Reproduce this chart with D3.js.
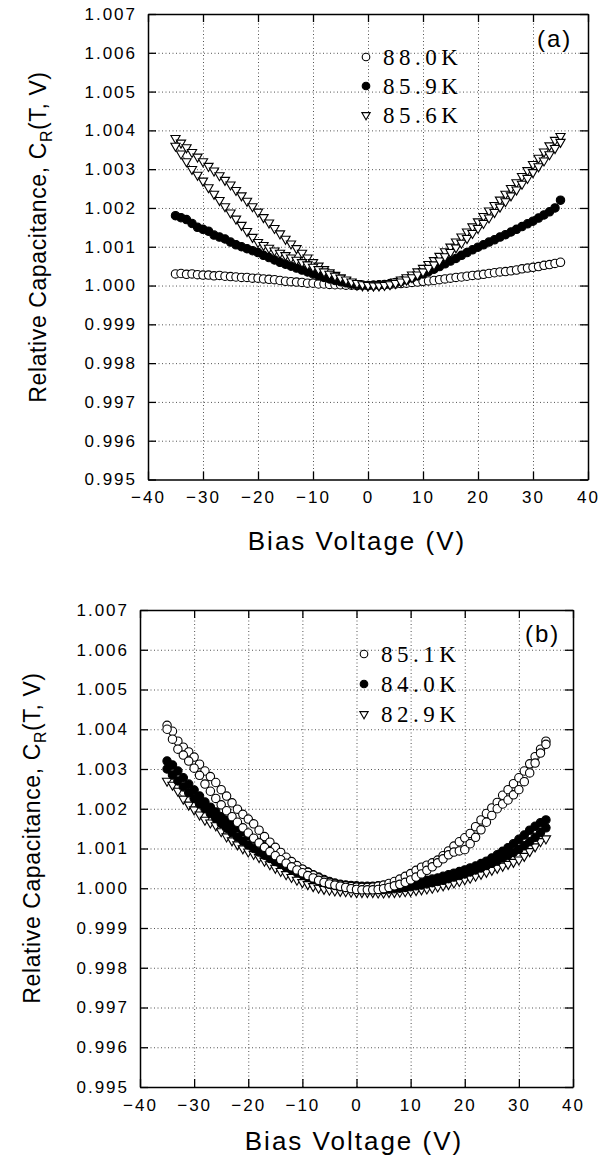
<!DOCTYPE html>
<html>
<head>
<meta charset="utf-8">
<script src="https://cdn.jsdelivr.net/npm/d3@7"></script>
<style>
  body { margin: 0; background: #fff; }
  svg text { font-family: "Liberation Sans", Arial, sans-serif; fill: #000; }
  .axis .tick text { font-size: 17px; letter-spacing: 2px; }
  .axis path.domain { stroke: #000; stroke-width: 1.5; }
  .axis .tick line { stroke: #000; stroke-width: 1.3; }
  .grid .tick line { stroke: #000; stroke-width: 0.8; stroke-dasharray: 1, 2.5; opacity: 0.85; }
  .grid path.domain { display: none; }
  .legend text { font-family: "Liberation Serif", "Times New Roman", serif; font-size: 23px; letter-spacing: 4.5px; }
</style>
</head>
<body>
<div id="container"></div>
<script>
/* DATA */
const voltage = [-35,-34,-33,-32,-31,-30,-29,-28,-27,-26,-25,-24,-23,-22,-21,-20,-19,-18,-17,-16,-15,-14,-13,-12,-11,-10,-9,-8,-7,-6,-5,-4,-3,-2,-1,0,
  1,2,3,4,5,6,7,8,9,10,11,12,13,14,15,16,17,18,19,20,21,22,23,24,25,26,27,28,29,30,31,32,33,34,35]
const xTicks = [-40, -30, -20, -10, 0, 10, 20, 30, 40]
const yTicks = [0.995, 0.996, 0.997, 0.998, 0.999, 1.000, 1.001, 1.002, 1.003, 1.004, 1.005, 1.006, 1.007]
const labelsA = ["88.0K", "85.9K", "85.6K"]
const labelsB = ["85.1K", "84.0K", "82.9K"]

// panel (a)
const a880 = [1.00030,1.00031,1.00029,1.00030,1.00028,1.00027,1.00027,1.00025,1.00026,1.00024,1.00023,1.00022,1.00021,1.00021,1.00019,1.00019,1.00017,1.00016,1.00015,1.00013,1.00011,1.00010,1.00009,1.00008,1.00006,1.00006,1.00004,1.00004,1.00003,1.00002,1.00002,1.00001,1.00001,1.00000,1.00001,1.00000,
  1.00001,1.00001,1.00002,1.00002,1.00004,1.00005,1.00006,1.00008,1.00009,1.00011,1.00012,1.00013,1.00015,1.00017,1.00019,1.00021,1.00022,1.00024,1.00026,1.00027,1.00029,1.00031,1.00033,1.00035,1.00036,1.00038,1.00040,1.00043,1.00045,1.00047,1.00049,1.00052,1.00054,1.00057,1.00060]
const a859 = [1.00180,1.00175,1.00170,1.00160,1.00150,1.00145,1.00140,1.00130,1.00125,1.00120,1.00112,1.00105,1.00100,1.00095,1.00090,1.00085,1.00078,1.00072,1.00066,1.00060,1.00055,1.00050,1.00045,1.00040,1.00035,1.00030,1.00025,1.00021,1.00017,1.00013,1.00010,1.00007,1.00004,1.00002,1.00001,1.00000,
  1.00001,1.00002,1.00003,1.00005,1.00008,1.00011,1.00015,1.00020,1.00025,1.00030,1.00036,1.00042,1.00049,1.00056,1.00063,1.00070,1.00078,1.00085,1.00092,1.00099,1.00105,1.00112,1.00118,1.00125,1.00131,1.00138,1.00145,1.00152,1.00159,1.00166,1.00174,1.00182,1.00190,1.00200,1.00220]
const a856up = [1.00380,1.00368,1.00356,1.00344,1.00332,1.00320,1.00308,1.00296,1.00284,1.00272,1.00260,1.00246,1.00232,1.00218,1.00204,1.00190,1.00176,1.00162,1.00148,1.00134,1.00120,1.00108,1.00096,1.00084,1.00072,1.00060,1.00051,1.00042,1.00034,1.00027,1.00020,1.00013,1.00007,1.00002,1.00000,0.99999,
  1.00000,1.00001,1.00003,1.00006,1.00010,1.00015,1.00021,1.00028,1.00036,1.00045,1.00055,1.00065,1.00076,1.00088,1.00100,1.00113,1.00126,1.00139,1.00152,1.00165,1.00179,1.00193,1.00207,1.00221,1.00236,1.00251,1.00266,1.00282,1.00297,1.00313,1.00329,1.00345,1.00361,1.00375,1.00385]
const a856dn = [1.00360,1.00340,1.00320,1.00300,1.00285,1.00270,1.00253,1.00236,1.00220,1.00204,1.00188,1.00172,1.00156,1.00140,1.00125,1.00112,1.00104,1.00097,1.00090,1.00084,1.00078,1.00072,1.00066,1.00060,1.00054,1.00048,1.00042,1.00036,1.00030,1.00025,1.00020,1.00015,1.00010,1.00006,1.00003,1.00001,
  1.00000,1.00000,1.00001,1.00003,1.00006,1.00010,1.00015,1.00021,1.00028,1.00036,1.00045,1.00054,1.00064,1.00075,1.00086,1.00098,1.00110,1.00122,1.00135,1.00148,1.00161,1.00175,1.00189,1.00203,1.00217,1.00232,1.00247,1.00262,1.00277,1.00292,1.00307,1.00322,1.00338,1.00354,1.00370]

// panel (b)
const b851up = [1.00410,1.00395,1.00370,1.00355,1.00343,1.00330,1.00312,1.00295,1.00281,1.00266,1.00248,1.00232,1.00215,1.00199,1.00186,1.00174,1.00162,1.00146,1.00130,1.00116,1.00103,1.00090,1.00078,1.00067,1.00057,1.00048,1.00040,1.00033,1.00026,1.00020,1.00015,1.00011,1.00008,1.00006,1.00004,1.00003,
  1.00002,1.00002,1.00003,1.00005,1.00008,1.00012,1.00017,1.00023,1.00030,1.00037,1.00045,1.00053,1.00058,1.00064,1.00071,1.00082,1.00094,1.00106,1.00117,1.00127,1.00138,1.00155,1.00172,1.00188,1.00202,1.00216,1.00234,1.00248,1.00263,1.00278,1.00295,1.00313,1.00331,1.00350,1.00370]
const b851dn = [1.00400,1.00375,1.00350,1.00335,1.00320,1.00302,1.00284,1.00262,1.00244,1.00226,1.00210,1.00195,1.00180,1.00166,1.00152,1.00139,1.00126,1.00114,1.00103,1.00092,1.00082,1.00072,1.00063,1.00054,1.00046,1.00039,1.00032,1.00026,1.00020,1.00015,1.00011,1.00008,1.00005,1.00002,0.99999,0.99997,
  0.99996,0.99996,0.99996,0.99997,0.99999,1.00002,1.00006,1.00010,1.00015,1.00021,1.00028,1.00036,1.00045,1.00054,1.00064,1.00074,1.00084,1.00091,1.00094,1.00097,1.00112,1.00128,1.00147,1.00166,1.00183,1.00200,1.00212,1.00222,1.00235,1.00248,1.00268,1.00290,1.00315,1.00340,1.00362]
const b840a = [1.00320,1.00310,1.00295,1.00278,1.00262,1.00247,1.00232,1.00217,1.00204,1.00192,1.00180,1.00171,1.00162,1.00153,1.00143,1.00133,1.00124,1.00115,1.00106,1.00097,1.00088,1.00079,1.00071,1.00063,1.00055,1.00048,1.00041,1.00034,1.00028,1.00022,1.00017,1.00013,1.00010,1.00008,1.00007,1.00006,
  1.00005,1.00005,1.00005,1.00006,1.00007,1.00008,1.00010,1.00011,1.00012,1.00013,1.00015,1.00017,1.00020,1.00023,1.00026,1.00030,1.00034,1.00038,1.00042,1.00046,1.00051,1.00056,1.00062,1.00068,1.00076,1.00084,1.00093,1.00102,1.00112,1.00123,1.00134,1.00146,1.00156,1.00165,1.00172]
const b840b = [1.00300,1.00285,1.00270,1.00255,1.00240,1.00226,1.00212,1.00200,1.00188,1.00176,1.00163,1.00151,1.00140,1.00129,1.00119,1.00109,1.00100,1.00091,1.00083,1.00075,1.00067,1.00060,1.00053,1.00046,1.00040,1.00034,1.00028,1.00023,1.00018,1.00014,1.00010,1.00007,1.00004,1.00002,1.00000,0.99999,
  0.99998,0.99997,0.99997,0.99997,0.99997,0.99998,0.99999,1.00000,1.00002,1.00004,1.00006,1.00008,1.00011,1.00014,1.00017,1.00020,1.00024,1.00028,1.00032,1.00036,1.00041,1.00046,1.00051,1.00057,1.00063,1.00069,1.00076,1.00083,1.00090,1.00098,1.00107,1.00117,1.00128,1.00140,1.00152]
const b829 = [1.00270,1.00260,1.00245,1.00225,1.00210,1.00198,1.00185,1.00172,1.00165,1.00158,1.00143,1.00130,1.00120,1.00110,1.00100,1.00092,1.00086,1.00078,1.00069,1.00060,1.00051,1.00043,1.00035,1.00028,1.00021,1.00015,1.00010,1.00005,1.00001,0.99998,0.99996,0.99994,0.99993,0.99992,0.99991,0.99990,
  0.99990,0.99990,0.99990,0.99989,0.99989,0.99990,0.99990,0.99991,0.99992,0.99993,0.99995,0.99997,0.99999,1.00001,1.00004,1.00007,1.00010,1.00014,1.00018,1.00022,1.00026,1.00031,1.00036,1.00041,1.00046,1.00051,1.00056,1.00061,1.00066,1.00072,1.00081,1.00093,1.00105,1.00118,1.00125]

/* SVG */
const width = 601, height = 1160
const svg = d3.select("#container").append("svg")
  .attr("width", width)
  .attr("height", height)

const fmtX = d => d < 0 ? "\u2212" + Math.abs(d) : String(d)
const fmtY = d3.format(".3f")
const triangle = d3.symbol().type(d3.symbolTriangle).size(36)

function drawMarker(sel, kind, r) {
  if (kind === "tri") {
    sel.append("path")
      .attr("d", d3.symbol().type(d3.symbolTriangle).size(r * r * 2.1)())
      .attr("transform", "rotate(180)")
      .attr("fill", "#fff").attr("stroke", "#000").attr("stroke-width", 1.1)
  } else {
    sel.append("circle").attr("r", r)
      .attr("fill", kind === "filled" ? "#000" : "#fff")
      .attr("stroke", "#000").attr("stroke-width", 1.1)
  }
}

function drawPanel(p) {
  const xScale = d3.scaleLinear().domain([-40, 40]).range([p.left, p.right])
  const yScale = d3.scaleLinear().domain([0.995, 1.007]).range([p.bottom, p.top])
  const g = svg.append("g")
  const h = p.bottom - p.top, w = p.right - p.left

  // dotted grid
  g.append("g").attr("class", "grid")
    .attr("transform", `translate(0,${p.bottom})`)
    .call(d3.axisBottom(xScale).tickValues(xTicks.slice(1, -1)).tickSize(-h).tickFormat(""))
  g.append("g").attr("class", "grid")
    .attr("transform", `translate(${p.left},0)`)
    .call(d3.axisLeft(yScale).tickValues(yTicks.slice(1, -1)).tickSize(-w).tickFormat(""))

  // data lines and markers
  p.series.forEach(s => {
    s.branches.forEach(vals => {
      const pts = voltage.map((v, i) => ({ v: v, c: vals[i] }))
      g.append("path")
        .datum(pts)
        .attr("fill", "none").attr("stroke", "#000").attr("stroke-width", 0.7)
        .attr("d", d3.line().x(d => xScale(d.v)).y(d => yScale(d.c)))
      g.selectAll(null)
        .data(pts)
        .join("g")
        .attr("transform", d => `translate(${xScale(d.v)},${yScale(d.c)})`)
        .each(function () { drawMarker(d3.select(this), s.kind, 4.2) })
    })
  })

  // axes, ticks pointing inward
  g.append("g").attr("class", "axis")
    .attr("transform", `translate(0,${p.bottom})`)
    .call(d3.axisBottom(xScale).tickValues(xTicks).tickSizeInner(-8).tickSizeOuter(0).tickPadding(p.xPad).tickFormat(fmtX))
  g.append("g").attr("class", "axis")
    .attr("transform", `translate(0,${p.top})`)
    .call(d3.axisTop(xScale).tickValues(xTicks).tickSizeInner(-8).tickSizeOuter(0).tickFormat(""))
  g.append("g").attr("class", "axis")
    .attr("transform", `translate(${p.left},0)`)
    .call(d3.axisLeft(yScale).tickValues(yTicks).tickSizeInner(-8).tickSizeOuter(0).tickPadding(11).tickFormat(fmtY))
  g.append("g").attr("class", "axis")
    .attr("transform", `translate(${p.right},0)`)
    .call(d3.axisRight(yScale).tickValues(yTicks).tickSizeInner(-8).tickSizeOuter(0).tickFormat(""))

  // panel tag
  g.append("text")
    .attr("x", p.tagX).attr("y", p.tagY)
    .attr("font-size", 24).attr("letter-spacing", 2)
    .text(p.tag)

  // legend
  const leg = g.append("g").attr("class", "legend")
  p.labels.forEach((lab, i) => {
    const row = leg.append("g").attr("transform", `translate(${p.legX},${p.legY[i]})`)
    drawMarker(row, p.legKinds[i], 3.8)
    row.append("text").attr("x", 17).attr("y", 8).text(lab)
  })

  // axis titles
  g.append("text")
    .attr("x", p.xLabX).attr("y", p.xLabY)
    .attr("text-anchor", "middle")
    .attr("font-size", 26).attr("letter-spacing", 2)
    .text("Bias Voltage (V)")

  const yl = g.append("text")
    .attr("transform", `translate(${p.yLabX},${p.yLabY}) rotate(-90)`)
    .attr("text-anchor", "middle")
    .attr("font-size", 23).attr("letter-spacing", 0.6)
  yl.append("tspan").text("Relative Capacitance, C")
  yl.append("tspan").attr("font-size", 16).attr("dy", 6).text("R")
  yl.append("tspan").attr("dy", -6).text("(T, V)")
}

drawPanel({
  left: 148, right: 588, top: 14, bottom: 479.5, xPad: 11.5,
  tag: "(a)", tagX: 537, tagY: 47,
  labels: labelsA, legKinds: ["open", "filled", "tri"], legX: 366, legY: [57, 86, 115],
  xLabX: 357, xLabY: 550, yLabX: 46, yLabY: 237,
  series: [
    { kind: "open", branches: [a880] },
    { kind: "filled", branches: [a859] },
    { kind: "tri", branches: [a856up, a856dn] }
  ]
})

drawPanel({
  left: 140, right: 573, top: 610, bottom: 1087, xPad: 12,
  tag: "(b)", tagX: 525, tagY: 642,
  labels: labelsB, legKinds: ["open", "filled", "tri"], legX: 364, legY: [654, 684, 714],
  xLabX: 354, xLabY: 1150, yLabX: 40, yLabY: 838,
  series: [
    { kind: "tri", branches: [b829] },
    { kind: "filled", branches: [b840a, b840b] },
    { kind: "open", branches: [b851up, b851dn] }
  ]
})
</script>
</body>
</html>
